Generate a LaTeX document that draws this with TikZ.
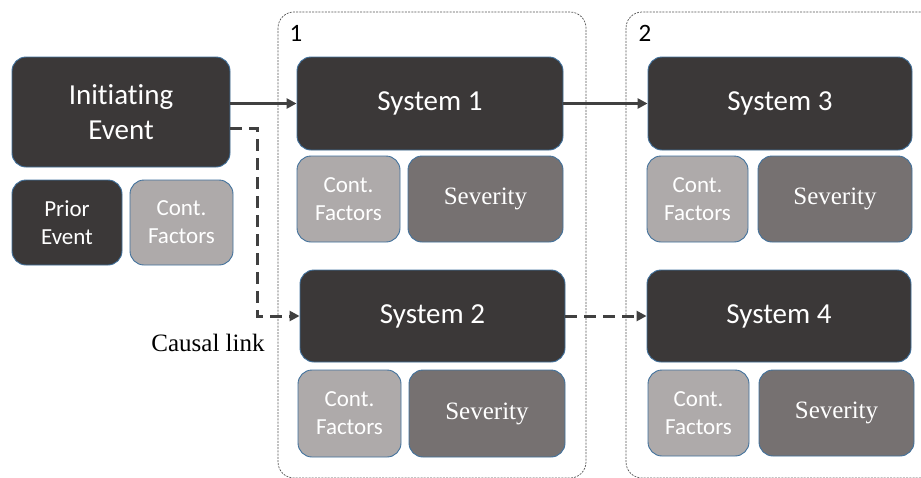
\documentclass[tikz,border=0pt]{standalone}
\usepackage{fontspec}
\setmainfont{Carlito}[Ligatures={NoCommon}]
\newfontfamily\serifface{Liberation Serif}
\usetikzlibrary{arrows.meta}
\definecolor{dk}{HTML}{3B3838}
\definecolor{lt}{HTML}{AEAAAA}
\definecolor{md}{HTML}{767171}
\definecolor{bd}{HTML}{41719C}
\definecolor{ln}{HTML}{404040}
\definecolor{fr}{HTML}{555555}
\tikzset{
  box/.style={draw=bd, line width=0.9pt, rounded corners=14pt, inner sep=0pt, text=white, align=center},
  sysbox/.style={box, fill=dk, font=\fontsize{29}{35}\selectfont},
  evbox/.style={box, fill=dk, font=\fontsize{23}{28}\selectfont},
  cfbox/.style={box, fill=lt, font=\fontsize{23}{28}\selectfont},
  sevbox/.style={box, fill=md, font=\serifface\fontsize{25}{30}\selectfont},
  grpframe/.style={draw=fr, line width=0.7pt, dash pattern=on 2pt off 1.2pt, rounded corners=16pt},
  grplabel/.style={font=\fontsize{25}{30}\selectfont, text=black, inner sep=0pt},
  link/.style={draw=ln, line width=3pt, -{Triangle[length=10pt,width=10pt]}},
  dlink/.style={link, dash pattern=on 12pt off 7pt},
}
\begin{document}
\begin{tikzpicture}[x=1pt,y=-1pt]
\clip (0,0) rectangle (921,477);
\fill[white] (0,0) rectangle (921,477);
% group frames
\draw[grpframe] (278,12) rectangle (586,478);
\draw[grpframe] (626,12) rectangle (980,478);
\node[grplabel] (g1) at (296,33) {1};
\node[grplabel] (g2) at (645,33) {2};
% left column
\node[sysbox, minimum width=218pt, minimum height=110pt] (ie) at (121,112) {Initiating\\Event};
\node[evbox, minimum width=110pt, minimum height=85pt] (pe) at (67,222.5) {Prior\\Event};
\node[cfbox, minimum width=103pt, minimum height=85pt] (cf0) at (181.5,222.5) {Cont.\\Factors};
% group 1
\node[sysbox, minimum width=266pt, minimum height=93pt] (s1) at (430,103.5) {System 1};
\node[cfbox, minimum width=103pt, minimum height=86pt] (cf1) at (348.5,199) {Cont.\\Factors};
\node[sevbox, minimum width=155pt, minimum height=86pt] (sv1) at (485.5,199) {Severity};
\node[sysbox, minimum width=265pt, minimum height=92pt] (s2) at (432.5,316) {System 2};
\node[cfbox, minimum width=103pt, minimum height=87pt] (cf2) at (349.5,413.5) {Cont.\\Factors};
\node[sevbox, minimum width=156pt, minimum height=87pt] (sv2) at (487,413.5) {Severity};
% group 2
\node[sysbox, minimum width=264pt, minimum height=93pt] (s3) at (780,103.5) {System 3};
\node[cfbox, minimum width=101pt, minimum height=86pt] (cf3) at (697.5,199) {Cont.\\Factors};
\node[sevbox, minimum width=154pt, minimum height=86pt] (sv3) at (835,199) {Severity};
\node[sysbox, minimum width=264pt, minimum height=92pt] (s4) at (779,316) {System 4};
\node[cfbox, minimum width=101pt, minimum height=86pt] (cf4) at (698.5,413) {Cont.\\Factors};
\node[sevbox, minimum width=155pt, minimum height=86pt] (sv4) at (836.5,413) {Severity};
% label
\node[font=\serifface\fontsize{25}{30}\selectfont, text=black] (cl) at (208,343) {Causal link};
% connectors
\draw[link] (ie.east |- s1.west) -- (s1.west);
\draw[link] (s1.east) -- (s3.west);
\coordinate (bend) at (257,316);
\draw[dlink] ([yshift=-16pt]ie.east) -| (bend) -- (s2.west);
\draw[dlink] (s2.east) -- (s4.west);
\end{tikzpicture}
\end{document}
